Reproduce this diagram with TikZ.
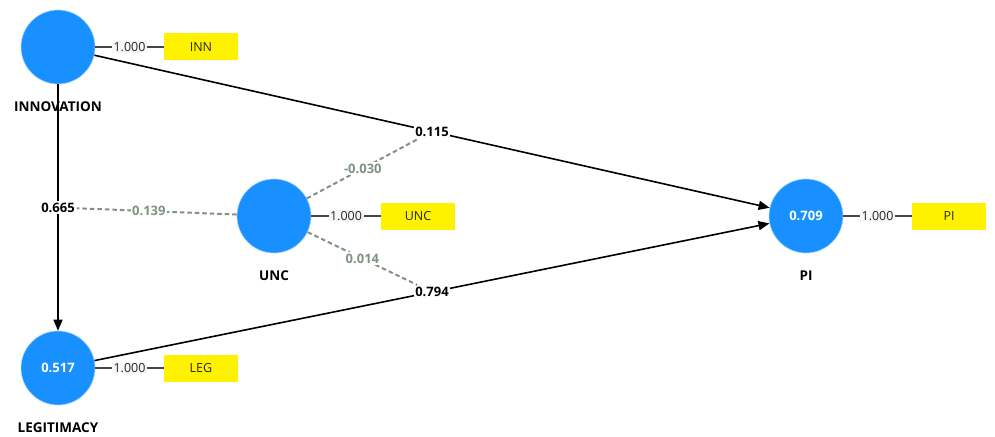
\documentclass[tikz,border=0pt]{standalone}
\usepackage{fontspec}
\setmainfont{Open Sans}
\usetikzlibrary{arrows.meta}
\definecolor{lvblue}{RGB}{24,144,255}
\definecolor{modgray}{RGB}{128,146,128}
\definecolor{loadgray}{RGB}{70,70,70}

\begin{document}
\begin{tikzpicture} [x=1pt, y=-1pt, font=\fontsize{12.5}{14}\selectfont,
  lv/.style={circle, fill=lvblue, draw=lvblue!40, line width=0.6pt, minimum size=74pt, inner sep=0pt, text=white, font=\fontsize{13}{14}\selectfont\bfseries},
  lvname/.style={font=\fontsize{13.5}{15}\selectfont\bfseries},
  ind/.style={fill=yellow, minimum width=74pt, minimum height=27pt, inner sep=0pt, text=black!85},
  load/.style={fill=black!3, inner sep=1.5pt, text=black!85},
  coef/.style={fill=white, inner sep=1.5pt, font=\fontsize{13}{14}\selectfont\bfseries},
  modcoef/.style={fill=white, inner sep=1.5pt, text=modgray, font=\fontsize{13}{14}\selectfont\bfseries},
  path/.style={line width=1.6pt, -{Triangle[length=11pt,width=9pt]}},
  modpath/.style={line width=2pt, modgray, dash pattern=on 4.5pt off 3pt},
  loadpath/.style={line width=1.2pt, loadgray}]
  \useasboundingbox (0,0) rectangle (995,436);
  \path  (58,47)    node[lv](INN)  {}
          +(0,60)   node[lvname](INNname) {INNOVATION}
          +(143,0)  node[ind](INNi) {INN}
         (58,368)   node[lv](LEG)  {0.517}
          +(0,60)   node[lvname](LEGname) {LEGITIMACY}
          +(143,0)  node[ind](LEGi) {LEG}
         (274,216)  node[lv](UNC)  {}
          +(0,60)   node[lvname](UNCname) {UNC}
          +(144,0)  node[ind](UNCi) {UNC}
         (806,216)  node[lv](PI)   {0.709}
          +(0,60)   node[lvname](PIname) {PI}
          +(143,0)  node[ind](PIi) {PI};
  % loadings
  \draw [loadpath] (INN) to node [load]{1.000} (INNi);
  \draw [loadpath] (LEG) to node [load]{1.000} (LEGi);
  \draw [loadpath] (UNC) to node [load]{1.000} (UNCi);
  \draw [loadpath] (PI) to node [load]{1.000} (PIi);
  % structural paths
  \draw [path] (INN) to node [pos=0.5,coef](c665){0.665} (LEG);
  \draw [path] (INN) to node [pos=0.5,coef](c115){0.115} (PI);
  \draw [path] (LEG) to node [pos=0.5,coef](c794){0.794} (PI);
  % moderating effects
  \draw [modpath] (UNC) to node [pos=0.55,modcoef]{0.139} (c665);
  \draw [modpath] (UNC) to node [pos=0.5,modcoef]{-0.030} (c115);
  \draw [modpath] (UNC) to node [pos=0.5,modcoef]{0.014} (c794);
\end{tikzpicture}
\end{document}
